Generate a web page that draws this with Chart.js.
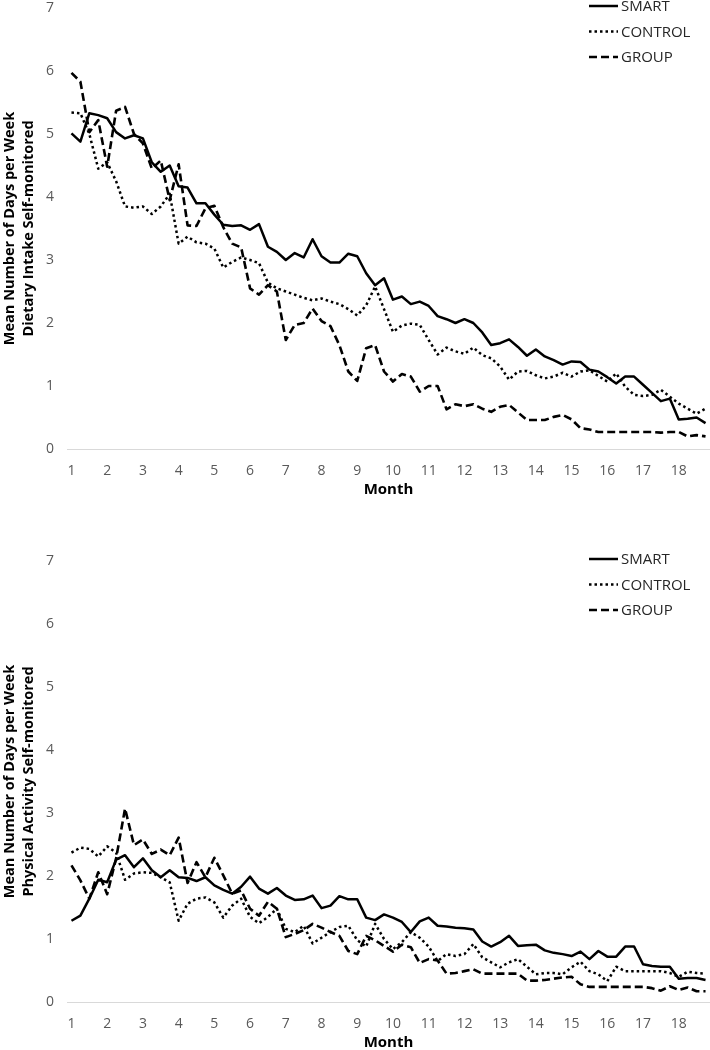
<!DOCTYPE html>
<html><head><meta charset="utf-8">
<script src="https://cdn.jsdelivr.net/npm/chart.js@4.4.1/dist/chart.umd.min.js"></script>
<style>
html,body{margin:0;padding:0;background:#fff;overflow:hidden;width:710px;height:1050px;position:relative;}
#c1{position:absolute;left:0;top:0;}
#c2{position:absolute;left:0;top:553px;}
</style></head><body>
<canvas id="c1" width="710" height="503"></canvas>
<canvas id="c2" width="710" height="503"></canvas>
<script>
const seriesNames = ['SMART', 'CONTROL', 'GROUP'];
const monthTicks = [1,2,3,4,5,6,7,8,9,10,11,12,13,14,15,16,17,18];
const weeks = [1,2,3,4,5,6,7,8,9,10,11,12,13,14,15,16,17,18,19,20,21,22,23,24,
  25,26,27,28,29,30,31,32,33,34,35,36,37,38,39,40,41,42,43,44,45,46,47,48,
  49,50,51,52,53,54,55,56,57,58,59,60,61,62,63,64,65,66,67,68,69,70,71,72];
const weeksPerMonth = 4;

const dietSmart = [5.01,4.88,5.33,5.30,5.25,5.03,4.93,4.98,4.93,4.55,
  4.40,4.50,4.17,4.15,3.90,3.90,3.72,3.56,3.54,3.55,
  3.48,3.57,3.21,3.13,3.00,3.11,3.04,3.33,3.06,2.96,
  2.96,3.10,3.06,2.79,2.60,2.71,2.37,2.42,2.30,2.34,
  2.27,2.11,2.06,2.00,2.06,2.00,1.85,1.65,1.68,1.74,
  1.62,1.48,1.58,1.47,1.41,1.34,1.39,1.38,1.26,1.23,
  1.14,1.04,1.15,1.15,1.02,0.89,0.76,0.80,0.47,0.48,
  0.50,0.41];
const dietControl = [5.34,5.33,5.00,4.45,4.55,4.25,3.85,3.83,3.85,3.73,
  3.85,4.05,3.26,3.37,3.28,3.26,3.18,2.88,2.97,3.04,
  3.00,2.95,2.64,2.55,2.50,2.45,2.40,2.36,2.39,2.34,
  2.30,2.22,2.12,2.28,2.58,2.22,1.86,1.96,1.99,1.97,
  1.73,1.50,1.61,1.55,1.51,1.61,1.49,1.44,1.31,1.10,
  1.23,1.24,1.17,1.12,1.15,1.21,1.15,1.23,1.25,1.16,
  1.07,1.20,0.99,0.86,0.84,0.86,0.94,0.83,0.72,0.64,
  0.56,0.64];
const dietGroup = [5.97,5.83,5.03,5.22,4.48,5.37,5.43,5.00,4.85,4.45,
  4.58,3.95,4.52,3.55,3.54,3.82,3.86,3.52,3.26,3.20,
  2.55,2.45,2.60,2.50,1.73,1.97,2.00,2.23,2.03,1.95,
  1.65,1.23,1.08,1.60,1.65,1.23,1.07,1.19,1.15,0.91,
  1.00,1.00,0.63,0.71,0.68,0.71,0.64,0.59,0.67,0.70,
  0.58,0.46,0.46,0.46,0.51,0.54,0.47,0.33,0.31,0.27,
  0.27,0.27,0.27,0.27,0.27,0.27,0.26,0.27,0.27,0.20,
  0.22,0.20];

const paSmart = [1.29,1.37,1.64,1.94,1.90,2.26,2.33,2.14,2.28,2.09,
  1.98,2.09,1.98,1.97,1.92,1.98,1.85,1.78,1.72,1.83,
  1.99,1.80,1.72,1.81,1.69,1.62,1.63,1.69,1.49,1.53,
  1.68,1.63,1.63,1.34,1.30,1.39,1.34,1.27,1.11,1.28,
  1.34,1.21,1.20,1.18,1.17,1.15,0.96,0.88,0.95,1.05,
  0.89,0.90,0.91,0.82,0.78,0.76,0.73,0.80,0.68,0.81,
  0.72,0.72,0.88,0.88,0.60,0.57,0.56,0.56,0.37,0.38,
  0.38,0.35];
const paControl = [2.37,2.45,2.43,2.31,2.47,2.37,1.94,2.04,2.06,2.05,
  1.98,1.90,1.29,1.56,1.64,1.66,1.58,1.34,1.53,1.64,
  1.35,1.25,1.35,1.48,1.16,1.11,1.21,0.93,1.02,1.11,
  1.19,1.21,0.98,0.88,1.24,1.00,0.84,0.95,1.11,1.02,
  0.88,0.65,0.76,0.73,0.76,0.92,0.71,0.63,0.55,0.63,
  0.68,0.56,0.44,0.46,0.46,0.44,0.55,0.64,0.49,0.44,
  0.33,0.56,0.49,0.49,0.49,0.49,0.49,0.46,0.40,0.48,
  0.46,0.45];
const paGroup = [2.17,1.93,1.64,2.06,1.71,2.28,3.07,2.49,2.58,2.35,
  2.42,2.33,2.61,1.89,2.22,1.98,2.29,2.01,1.72,1.77,
  1.48,1.37,1.59,1.48,1.03,1.08,1.14,1.24,1.18,1.11,
  1.05,0.81,0.76,1.05,0.98,0.89,0.80,0.91,0.87,0.62,
  0.68,0.66,0.45,0.46,0.49,0.52,0.45,0.45,0.45,0.45,
  0.45,0.34,0.34,0.35,0.37,0.39,0.40,0.28,0.24,0.24,
  0.24,0.24,0.24,0.24,0.24,0.22,0.18,0.25,0.19,0.23,
  0.17,0.17];

const yTitleTop = ['Mean Number of Days per Week', 'Dietary Intake Self-monitored'];
const yTitleBottom = ['Mean Number of Days per Week', 'Physical Activity Self-monitored'];

Chart.defaults.font.family = "'Open Sans', sans-serif";

const lineStyles = [
  {borderDash: [], borderWidth: 2.5},
  {borderDash: [2.5, 3], borderWidth: 2.5},
  {borderDash: [8, 4], borderWidth: 2.6}
];

const insideLegend = {
  id: 'insideLegend',
  afterDraw(chart) {
    const ctx = chart.ctx;
    ctx.save();
    chart.data.datasets.forEach((ds, k) => {
      const y = 6 + k * 25.5;
      ctx.beginPath();
      ctx.setLineDash(ds.borderDash || []);
      ctx.lineWidth = ds.borderWidth;
      ctx.strokeStyle = ds.borderColor;
      ctx.moveTo(589, y);
      ctx.lineTo(618, y);
      ctx.stroke();
      ctx.setLineDash([]);
      ctx.fillStyle = '#262626';
      ctx.font = "15px 'Open Sans', sans-serif";
      ctx.textBaseline = 'middle';
      ctx.textAlign = 'left';
      ctx.fillText(ds.label, 621, y + 1);
    });
    ctx.restore();
  }
};

function toPoints(vals) {
  return vals.map((v, k) => ({x: 1 + (weeks[k] - 1) / weeksPerMonth, y: v}));
}

function makeChart(id, yTitle, seriesVals) {
  new Chart(document.getElementById(id), {
    type: 'line',
    data: {
      datasets: seriesVals.map((vals, k) => ({
        label: seriesNames[k],
        data: toPoints(vals),
        borderColor: '#000',
        backgroundColor: '#000',
        borderWidth: lineStyles[k].borderWidth,
        borderDash: lineStyles[k].borderDash,
        borderCapStyle: 'butt',
        borderJoinStyle: 'round',
        pointRadius: 0,
        tension: 0,
        fill: false
      }))
    },
    options: {
      responsive: false,
      animation: false,
      devicePixelRatio: 1,
      layout: {padding: {top: 0, left: 0, right: 0, bottom: 0}},
      plugins: {legend: {display: false}, tooltip: {enabled: false}},
      scales: {
        x: {
          type: 'linear',
          min: 1 - 0.5 / weeksPerMonth,
          max: 1 + (weeks.length - 0.5) / weeksPerMonth,
          afterBuildTicks: ax => { ax.ticks = monthTicks.map(v => ({value: v})); },
          grid: {display: false, drawTicks: false},
          border: {display: true, color: '#d9d9d9', width: 1},
          ticks: {padding: 14, color: '#595959', font: {size: 14}, maxRotation: 0, autoSkip: false},
          title: {display: true, text: 'Month', color: '#000', font: {size: 15, weight: 'bold'}, padding: {top: 4, bottom: 4}},
          afterFit: s => { s.height = 54; s.paddingLeft = 0; s.paddingRight = 0; }
        },
        y: {
          min: 0, max: 7,
          ticks: {stepSize: 1, padding: 13, color: '#595959', font: {size: 14}},
          grid: {display: false, drawTicks: false},
          border: {display: false},
          title: {display: true, text: yTitle, color: '#000', font: {size: 14.5, weight: 'bold', lineHeight: 1.35}, padding: {top: 0, bottom: 0}},
          afterFit: s => { s.width = 67; s.paddingTop = 8; s.paddingBottom = 0; }
        }
      }
    },
    plugins: [insideLegend]
  });
}

makeChart('c1', yTitleTop, [dietSmart, dietControl, dietGroup]);
makeChart('c2', yTitleBottom, [paSmart, paControl, paGroup]);
</script>
</body></html>
